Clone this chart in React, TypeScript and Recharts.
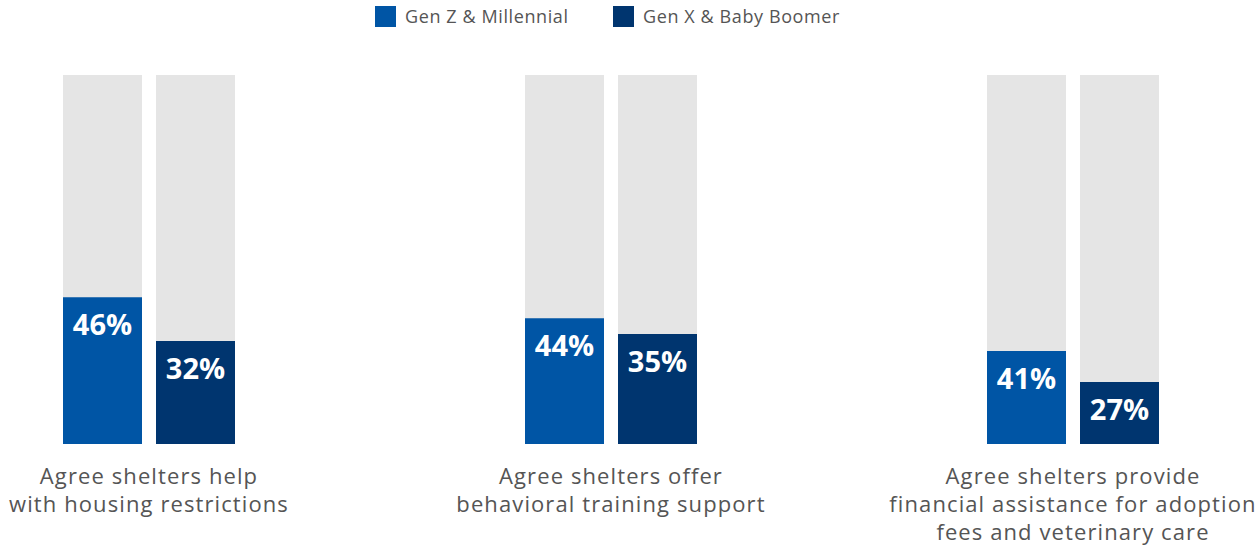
import { BarChart, Bar, XAxis, YAxis, LabelList } from "recharts"

const categories = [
  ["Agree shelters help", "with housing restrictions"],
  ["Agree shelters offer", "behavioral training support"],
  ["Agree shelters provide", "financial assistance for adoption", "fees and veterinary care"],
]
const seriesNames = ["Gen Z & Millennial", "Gen X & Baby Boomer"]
// printed percentages
const genZLabels = [46, 44, 41]
const genXLabels = [32, 35, 27]
// bar heights as drawn (the source art is not to scale), on a 0-100 track
const genZHeights = [39.8, 34.1, 25.2]
const genXHeights = [27.9, 29.8, 16.8]

const COLORS = ["#0055a5", "#00356f"]
const FONT = "'Open Sans', sans-serif"

const data = categories.map((lines, i) => ({
  name: lines.join(" "),
  lines,
  genZ: genZHeights[i],
  genX: genXHeights[i],
  genZLabel: genZLabels[i],
  genXLabel: genXLabels[i],
}))

function CategoryTick({ x, y, payload, index }: any) {
  const lines = categories[index ?? payload.index] || []
  return (
    <g>
      {lines.map((line, i) => (
        <text
          key={i}
          x={x}
          y={y + 32 + i * 28}
          textAnchor="middle"
          fill="#555555"
          fontSize={22}
          letterSpacing={1.1}
          fontFamily={FONT}
        >
          {line}
        </text>
      ))}
    </g>
  )
}

function makeLabel(labels: number[]) {
  return function ValueLabel(props: any) {
    const { x, y, width, index } = props
    return (
      <text
        x={x + width / 2}
        y={y + 26}
        textAnchor="middle"
        dominantBaseline="central"
        fill="#ffffff"
        fontSize={29}
        fontWeight={700}
        fontFamily={FONT}
      >
        {labels[index]}%
      </text>
    )
  }
}

function LegendBar() {
  const items = [
    { name: seriesNames[0], color: COLORS[0], left: 375 },
    { name: seriesNames[1], color: COLORS[1], left: 613 },
  ]
  return (
    <div>
      {items.map(it => (
        <div
          key={it.name}
          style={{ position: "absolute", left: it.left, top: 6, display: "flex", alignItems: "center" }}
        >
          <div style={{ width: 21, height: 21, background: it.color }} />
          <span
            style={{
              marginLeft: 9,
              fontFamily: FONT,
              fontSize: 18,
              letterSpacing: 0.6,
              color: "#555555",
              lineHeight: "21px",
            }}
          >
            {it.name}
          </span>
        </div>
      ))}
    </div>
  )
}

export default function App() {
  return (
    <div style={{ position: "absolute", left: 0, top: 0, width: 1259, height: 546, overflow: "hidden", background: "#fff" }}>
      <LegendBar />
      <div style={{ position: "absolute", left: -82, top: 0 }}>
        <BarChart
          width={1386}
          height={546}
          data={data}
          margin={{ top: 75, right: 0, left: 0, bottom: 0 }}
          barGap={14}
          barSize={79}
        >
          <XAxis
            dataKey="name"
            axisLine={false}
            tickLine={false}
            height={102}
            interval={0}
            tick={<CategoryTick />}
          />
          <YAxis hide domain={[0, 100]} />
          <Bar dataKey="genZ" fill={COLORS[0]} background={{ fill: "#e5e5e5" }} isAnimationActive={false}>
            <LabelList dataKey="genZLabel" content={makeLabel(genZLabels)} />
          </Bar>
          <Bar dataKey="genX" fill={COLORS[1]} background={{ fill: "#e5e5e5" }} isAnimationActive={false}>
            <LabelList dataKey="genXLabel" content={makeLabel(genXLabels)} />
          </Bar>
        </BarChart>
      </div>
    </div>
  )
}
